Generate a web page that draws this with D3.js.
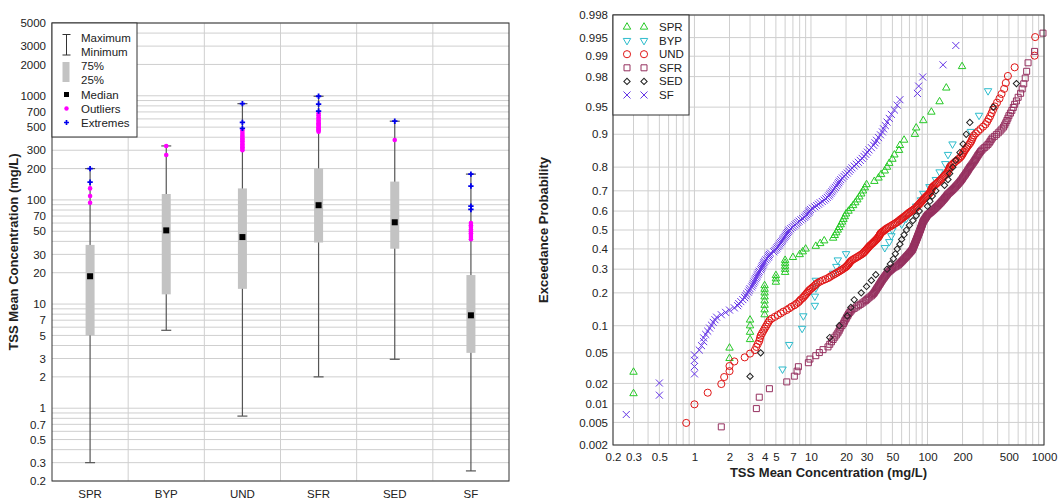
<!DOCTYPE html>
<html>
<head>
<meta charset="utf-8">
<script src="https://cdn.jsdelivr.net/npm/d3@7"></script>
<style>
body { margin: 0; background: #fff; }
text { font-family: "Liberation Sans", Arial, sans-serif; fill: #222; }
</style>
</head>
<body>
<div id="chart"></div>
<script>
// ---- box plot summaries (mg/L) ----
var boxCats = ["SPR", "BYP", "UND", "SFR", "SED", "SF"];
var boxMin = [0.3, 5.6, 0.84, 2.0, 2.95, 0.25];
var boxQ1 = [5, 12.4, 14, 39, 34, 3.4];
var boxMed = [18.5, 51, 44, 89, 61, 7.8];
var boxQ3 = [37, 114, 129, 201, 150, 19];
var boxMax = [200, 330, 840, 990, 570, 177];
var boxOutliers = [
    [129, 109, 94],
    [330, 270],
    [465, 440, 420, 405, 390, 378, 365, 352, 340, 330, 320, 310, 300],
    [680, 650, 620, 600, 580, 560, 545, 530, 515, 500, 490, 478, 465, 452],
    [376],
    [60, 57, 55, 52, 50, 48, 46, 44, 42]
];
var boxExtremes = [
    [200, 148],
    [],
    [840, 556, 486],
    [990, 833, 714],
    [570],
    [177, 136, 87, 81]
];
var boxTicks = [0.2, 0.3, 0.5, 0.7, 1, 2, 3, 5, 7, 10, 20, 30, 50, 70, 100, 200, 300, 500, 700, 1000, 2000, 3000, 5000];

// ---- probability plot: sorted concentrations per site (mg/L) ----
var sprConc = [0.3, 0.3, 2, 2, 3, 3, 3, 3, 4, 4,
    4, 4, 4, 4, 4, 4, 5, 5, 5, 6,
    6, 6, 6, 6, 7, 8, 8.5, 9, 11, 12,
    13, 15.5, 16, 16.5, 17, 17.5, 18, 18.5, 19, 19.5,
    20, 21, 22, 23, 24, 25, 26, 27, 28, 29,
    30, 35, 38, 40, 43, 45, 47, 50, 52, 57,
    58, 63, 78, 80, 92, 108, 127, 145, 198];
var bypConc = [5.7, 6.5, 8.4, 8.6, 10.8, 10.8, 11, 11, 15.5, 16.5,
    17, 20, 43, 47, 49, 50, 60, 66, 72, 80,
    88, 92, 104, 118, 127, 142, 150, 164, 236, 277, 331];
var undConc = [0.85, 1, 1.3, 1.7, 1.8, 2, 2, 2.2, 2.7, 3,
    3.3, 3.4, 3.5, 3.6, 3.65, 3.7, 3.8, 3.9, 4, 4.1,
    4.2, 4.3, 4.4, 4.6, 4.9, 5.2, 5.5, 5.8, 6.2, 6.5,
    6.8, 7.2, 7.5, 7.8, 8, 8.2, 8.5, 8.7, 8.9, 9.1,
    9.3, 9.5, 9.7, 10, 10.3, 10.6, 10.9, 11.1, 11.5, 12,
    12.6, 13.3, 14, 14.5, 15, 15.6, 16.2, 16.8, 17.4, 18,
    18.6, 19.2, 19.8, 20.2, 20.6, 21, 21.3, 21.6, 22, 22.5,
    23.2, 24, 24.8, 25.6, 26.4, 27.2, 28, 28.5, 29, 29.5,
    30, 30.5, 31, 31.5, 32, 32.7, 33.4, 34, 34.7, 35.3,
    36, 36.6, 37.2, 37.8, 38.3, 38.7, 39, 39.5, 40, 41,
    42, 43, 44, 45, 46.5, 48, 49.5, 51, 52.5, 54,
    55.5, 57, 58, 59.5, 61, 62.5, 64, 65.5, 67, 68.5,
    70, 72, 74, 76, 78, 80, 81, 82.5, 84, 85.5,
    87, 88.5, 90, 91.5, 93, 95, 97, 99, 101, 103,
    105, 106, 107, 108, 109, 110, 112, 115, 118, 121,
    124, 127, 130, 133, 136, 139, 142, 145, 148, 150,
    152, 154, 155, 158, 162, 167, 172, 178, 184, 190,
    195, 199, 202, 206, 210, 215, 220, 226, 232, 237,
    241, 245, 250, 260, 272, 285, 300, 315, 325, 335,
    345, 355, 365, 378, 395, 415, 432, 455, 470, 490,
    560, 830, 840];
var sfrConc = [1.7, 3.4, 3.6, 4.4, 6.2, 7.2, 7.6, 7.8, 9.5, 9.8,
    11, 11.8, 12.7, 14, 14.5, 15, 15.5, 16, 16.5, 17,
    17.4, 17.7, 18, 18.5, 19, 19.3, 19.6, 20, 20.3, 20.7,
    21, 21.5, 22, 22.5, 23.5, 24.5, 25.5, 26.5, 27.5, 28.5,
    29.5, 30.2, 31, 32, 33, 33.8, 34.5, 35, 35.5, 36,
    36.5, 37, 37.5, 38, 38.5, 39, 39.5, 40, 40.5, 41,
    41.6, 42.2, 42.8, 43.4, 44, 44.6, 45.2, 46, 47, 48,
    49, 50, 51.5, 53, 54.5, 56, 57, 58, 59, 60,
    61, 62, 63, 64, 65, 66, 67, 68, 69, 70,
    71, 72, 73, 74, 74.5, 75, 75.5, 76, 76.5, 77,
    77.5, 78, 78.5, 79, 79.5, 80, 80.5, 81, 81.5, 82,
    82.5, 83, 83.5, 84, 84.5, 85, 85.5, 86, 86.5, 87,
    87.5, 88, 88.5, 89, 89.5, 90, 90.5, 91, 91.5, 92,
    93, 94, 95, 96, 97, 98, 99, 100, 102, 104,
    106, 108, 110, 112, 114, 116, 118, 120, 122, 124,
    126, 128, 130, 132, 134, 136, 138, 140, 142, 144,
    146, 148, 150, 153, 156, 159, 162, 165, 168, 171,
    174, 177, 180, 183, 186, 189, 192, 195, 198, 200,
    203, 206, 209, 212, 215, 218, 221, 224, 227, 230,
    234, 238, 242, 246, 250, 254, 258, 262, 266, 270,
    275, 280, 285, 292, 300, 310, 320, 330, 338, 345,
    352, 360, 375, 390, 405, 420, 435, 450, 460, 470,
    480, 490, 500, 515, 530, 545, 560, 580, 600, 630,
    650, 670, 690, 710, 730, 830, 980];
var sedConc = [3, 3.7, 14.5, 17.5, 20.5, 22, 23.5, 27, 30, 33,
    36, 45, 48, 51, 53, 55, 58, 60, 63, 66,
    70, 75, 80, 85, 100, 105, 110, 118, 140, 150,
    155, 165, 175, 190, 202, 215, 231, 367, 580];
var sfConc = [0.26, 0.5, 0.5, 1, 1, 1, 1, 1.1, 1.15, 1.2,
    1.2, 1.25, 1.3, 1.35, 1.4, 1.45, 1.5, 1.55, 1.7, 1.85,
    2, 2.2, 2.35, 2.4, 2.5, 2.6, 2.7, 2.75, 2.8, 2.9,
    2.95, 3, 3.1, 3.15, 3.2, 3.25, 3.3, 3.35, 3.4, 3.45,
    3.5, 3.55, 3.6, 3.7, 3.75, 3.8, 3.85, 3.9, 3.95, 4,
    4.1, 4.2, 4.3, 4.35, 4.4, 4.5, 4.8, 4.9, 5, 5.1,
    5.2, 5.3, 5.4, 5.5, 5.6, 5.7, 5.8, 5.9, 6, 6.1,
    6.2, 6.3, 6.4, 6.5, 6.7, 6.9, 7.1, 7.3, 7.5, 7.7,
    7.9, 8.2, 8.5, 8.8, 9, 9.2, 9.4, 9.6, 9.7, 9.9,
    10.3, 10.8, 11.2, 11.6, 12, 12.5, 13, 13.4, 13.8, 14.2,
    14.5, 14.8, 15.1, 15.4, 15.8, 16.2, 16.6, 17, 17.3, 17.6,
    18, 18.6, 19.2, 19.8, 20.5, 21.2, 21.8, 22.5, 23.5, 24.5,
    25.5, 26.5, 27.5, 28.5, 29.5, 30.5, 31.5, 33, 34.5, 35.5,
    36.5, 38, 39.5, 41, 42, 43.5, 45, 47, 49, 52,
    55, 58, 82, 84, 91, 136, 175];

var probNames = ["SPR", "BYP", "UND", "SFR", "SED", "SF"];
var probTicks = [0.002, 0.005, 0.01, 0.02, 0.05, 0.1, 0.2, 0.3, 0.4, 0.5, 0.6, 0.7, 0.8, 0.9, 0.95, 0.98, 0.99, 0.995, 0.998];
var concTicks = [0.2, 0.3, 0.5, 1, 2, 3, 4, 5, 7, 10, 20, 30, 50, 100, 200, 500, 1000];

var gridColor = "#cfcfcf",
    fontSize = "11.5px";

// inverse standard normal (Acklam) for the probability axis
function probit(p) {
    var a = [-39.69683028665376, 220.9460984245205, -275.9285104469687, 138.3577518672690, -30.66479806614716, 2.506628277459239],
        b = [-54.47609879822406, 161.5858368580409, -155.6989798598866, 66.80131188771972, -13.28068155288572],
        c = [-0.007784894002430293, -0.3223964580411365, -2.400758277161838, -2.549732539343734, 4.374664141464968, 2.938163982698783],
        d = [0.007784695709041462, 0.3224671290700398, 2.445134137142996, 3.754408661907416],
        q, r;
    if (p < 0.02425) {
        q = Math.sqrt(-2 * Math.log(p));
        return (((((c[0]*q+c[1])*q+c[2])*q+c[3])*q+c[4])*q+c[5]) / ((((d[0]*q+d[1])*q+d[2])*q+d[3])*q+1);
    }
    if (p > 1 - 0.02425) {
        q = Math.sqrt(-2 * Math.log(1 - p));
        return -(((((c[0]*q+c[1])*q+c[2])*q+c[3])*q+c[4])*q+c[5]) / ((((d[0]*q+d[1])*q+d[2])*q+d[3])*q+1);
    }
    q = p - 0.5; r = q * q;
    return (((((a[0]*r+a[1])*r+a[2])*r+a[3])*r+a[4])*r+a[5])*q / (((((b[0]*r+b[1])*r+b[2])*r+b[3])*r+b[4])*r+1);
}

// every 1..9 multiple between lo and hi, for log gridlines
function logGrid(lo, hi) {
    var out = [];
    for (var e = -1; e <= 3; e++) {
        for (var m = 1; m <= 9; m++) {
            var v = +(m * Math.pow(10, e)).toPrecision(3);
            if (v >= lo - 1e-9 && v <= hi + 1e-9) out.push(v);
        }
    }
    return out;
}

var svg = d3.select("#chart")
    .append("svg")
    .attr("width", 1060)
    .attr("height", 502);

// ================= left: box plot =================
var boxLeft = 52, boxRight = 509, boxTop = 23, boxBottom = 481;

var bx = d3.scaleBand().domain(boxCats).range([boxLeft, boxRight]);
var by = d3.scaleLog().domain([0.2, 5000]).range([boxBottom, boxTop]);

var left = svg.append("g");

left.selectAll(".hgrid")
    .data(logGrid(0.2, 5000))
    .enter().append("line")
    .attr("x1", boxLeft).attr("x2", boxRight)
    .attr("y1", d => by(d)).attr("y2", d => by(d))
    .attr("stroke", gridColor);

left.selectAll(".vgrid")
    .data(boxCats.slice(1))
    .enter().append("line")
    .attr("x1", d => bx(d)).attr("x2", d => bx(d))
    .attr("y1", boxTop).attr("y2", boxBottom)
    .attr("stroke", gridColor);

left.append("g")
    .attr("transform", "translate(" + boxLeft + ",0)")
    .call(d3.axisLeft(by).tickValues(boxTicks).tickFormat(d3.format("~g")).tickSize(0).tickPadding(6))
    .call(g => g.select(".domain").remove())
    .selectAll("text").style("font-size", fontSize).attr("fill", "#222");

left.append("g")
    .attr("transform", "translate(0," + boxBottom + ")")
    .call(d3.axisBottom(bx).tickSize(0).tickPadding(9))
    .call(g => g.select(".domain").remove())
    .selectAll("text").style("font-size", fontSize).attr("fill", "#222");

left.append("text")
    .attr("transform", "translate(18," + ((boxTop + boxBottom) / 2) + ") rotate(-90)")
    .attr("text-anchor", "middle")
    .style("font-size", "13px")
    .style("font-weight", "bold")
    .text("TSS Mean Concentration (mg/L)");

var boxes = boxCats.map(function(c, i) {
    return { cat: c, min: boxMin[i], q1: boxQ1[i], med: boxMed[i], q3: boxQ3[i], max: boxMax[i],
             outliers: boxOutliers[i], extremes: boxExtremes[i] };
});

var bw = 9, capW = 10;
var cx = d => bx(d.cat) + bx.bandwidth() / 2;

var bg = left.selectAll(".box").data(boxes).enter().append("g");

bg.append("line")
    .attr("x1", cx).attr("x2", cx)
    .attr("y1", d => by(d.min)).attr("y2", d => by(d.max))
    .attr("stroke", "#555").attr("stroke-width", 1.2);
bg.append("line")
    .attr("x1", d => cx(d) - capW / 2).attr("x2", d => cx(d) + capW / 2)
    .attr("y1", d => by(d.min)).attr("y2", d => by(d.min))
    .attr("stroke", "#555").attr("stroke-width", 1.2);
bg.append("line")
    .attr("x1", d => cx(d) - capW / 2).attr("x2", d => cx(d) + capW / 2)
    .attr("y1", d => by(d.max)).attr("y2", d => by(d.max))
    .attr("stroke", "#555").attr("stroke-width", 1.2);
bg.append("rect")
    .attr("x", d => cx(d) - bw / 2)
    .attr("width", bw)
    .attr("y", d => by(d.q3))
    .attr("height", d => by(d.q1) - by(d.q3))
    .attr("fill", "#c3c3c3");
bg.append("rect")
    .attr("x", d => cx(d) - 3)
    .attr("y", d => by(d.med) - 3)
    .attr("width", 6).attr("height", 6)
    .attr("fill", "#000");
bg.selectAll(".out")
    .data(d => d.outliers.map(v => ({ cat: d.cat, v: v })))
    .enter().append("circle")
    .attr("cx", cx).attr("cy", d => by(d.v))
    .attr("r", 2.3).attr("fill", "#ff00ff");
bg.selectAll(".ext")
    .data(d => d.extremes.map(v => ({ cat: d.cat, v: v })))
    .enter().append("path")
    .attr("transform", d => "translate(" + cx(d) + "," + by(d.v) + ")")
    .attr("d", d3.symbol().type(d3.symbolCross).size(16))
    .attr("fill", "#0000ee");

left.append("rect")
    .attr("x", boxLeft).attr("y", boxTop)
    .attr("width", boxRight - boxLeft).attr("height", boxBottom - boxTop)
    .attr("fill", "none").attr("stroke", "#333");

// legend
var lg = left.append("g");
lg.append("rect")
    .attr("x", boxLeft).attr("y", boxTop)
    .attr("width", 85).attr("height", 114)
    .attr("fill", "#fff").attr("stroke", "#333");
lg.append("path")
    .attr("d", "M62.5,34.5H70.5M66.5,34.5V55M62.5,55H70.5")
    .attr("stroke", "#333").attr("fill", "none");
lg.append("rect").attr("x", 62.5).attr("y", 62).attr("width", 7).attr("height", 20).attr("fill", "#c3c3c3");
lg.append("rect").attr("x", 64).attr("y", 92).attr("width", 5).attr("height", 5).attr("fill", "#000");
lg.append("circle").attr("cx", 66.5).attr("cy", 108.5).attr("r", 2.2).attr("fill", "#ff00ff");
lg.append("path")
    .attr("transform", "translate(66.5,122.5)")
    .attr("d", d3.symbol().type(d3.symbolCross).size(14))
    .attr("fill", "#0000ee");
var legendText = [["Maximum", 38], ["Minimum", 52], ["75%", 66], ["25%", 80], ["Median", 94.5], ["Outliers", 108.5], ["Extremes", 122.5]];
lg.selectAll(".lt")
    .data(legendText)
    .enter().append("text")
    .attr("x", 81).attr("y", d => d[1])
    .attr("dy", "0.35em")
    .style("font-size", fontSize)
    .text(d => d[0]);

// ================= right: probability plot =================
var pLeft = 613, pRight = 1044, pTop = 15, pBottom = 445;

var px = d3.scaleLog().domain([0.2, 1000]).range([pLeft, pRight]);
var py = d3.scaleLinear().domain([probit(0.002), probit(0.998)]).range([pBottom, pTop]);

var right = svg.append("g");

right.selectAll(".vgrid")
    .data(logGrid(0.2, 1000))
    .enter().append("line")
    .attr("x1", d => px(d)).attr("x2", d => px(d))
    .attr("y1", pTop).attr("y2", pBottom)
    .attr("stroke", gridColor);

right.selectAll(".hgrid")
    .data(probTicks)
    .enter().append("line")
    .attr("x1", pLeft).attr("x2", pRight)
    .attr("y1", d => py(probit(d))).attr("y2", d => py(probit(d)))
    .attr("stroke", gridColor);

right.append("g")
    .attr("transform", "translate(" + pLeft + ",0)")
    .call(d3.axisLeft(py).tickValues(probTicks.map(probit)).tickFormat((d, i) => probTicks[i]).tickSize(0).tickPadding(5))
    .call(g => g.select(".domain").remove())
    .selectAll("text").style("font-size", fontSize).attr("fill", "#222");

right.append("g")
    .attr("transform", "translate(0," + pBottom + ")")
    .call(d3.axisBottom(px).tickValues(concTicks).tickFormat(d3.format("~g")).tickSize(0).tickPadding(8))
    .call(g => g.select(".domain").remove())
    .selectAll("text").style("font-size", fontSize).attr("fill", "#222");

right.append("text")
    .attr("x", (pLeft + pRight) / 2)
    .attr("y", 477)
    .attr("text-anchor", "middle")
    .style("font-size", "13px")
    .style("font-weight", "bold")
    .text("TSS Mean Concentration (mg/L)");

right.append("text")
    .attr("transform", "translate(548," + ((pTop + pBottom) / 2) + ") rotate(-90)")
    .attr("text-anchor", "middle")
    .style("font-size", "13px")
    .style("font-weight", "bold")
    .text("Exceedance Probability");

var symX = d3.symbolX || d3.symbolCross;
var styles = {
    SPR: { color: "#27c927", sym: d3.symbolTriangle, size: 24, rot: 0 },
    BYP: { color: "#2cbccc", sym: d3.symbolTriangle, size: 24, rot: 180 },
    UND: { color: "#e01515", sym: d3.symbolCircle, size: 40, rot: 0 },
    SFR: { color: "#95305f", sym: d3.symbolSquare, size: 36, rot: 0 },
    SED: { color: "#222222", sym: d3.symbolSquare, size: 20, rot: 45 },
    SF:  { color: "#6535e6", sym: symX, size: 34, rot: 0 }
};

var probData = [sprConc, bypConc, undConc, sfrConc, sedConc, sfConc].map(function(conc, k) {
    return {
        name: probNames[k],
        points: conc.map((c, i) => ({ c: c, p: (i + 1) / (conc.length + 1) }))
    };
});

var pg = right.selectAll(".series")
    .data(probData)
    .enter().append("g");

pg.selectAll("path")
    .data(d => d.points.map(pt => Object.assign({ name: d.name }, pt)))
    .enter().append("path")
    .attr("transform", d => "translate(" + px(d.c) + "," + py(probit(d.p)) + ") rotate(" + styles[d.name].rot + ")")
    .attr("d", d => d3.symbol().type(styles[d.name].sym).size(styles[d.name].size)())
    .attr("fill", "none")
    .attr("stroke", d => styles[d.name].color)
    .attr("stroke-width", 1);

right.append("rect")
    .attr("x", pLeft).attr("y", pTop)
    .attr("width", pRight - pLeft).attr("height", pBottom - pTop)
    .attr("fill", "none").attr("stroke", "#333");

// legend
var pl = right.append("g");
pl.append("rect")
    .attr("x", pLeft).attr("y", pTop)
    .attr("width", 76).attr("height", 100)
    .attr("fill", "#fff").attr("stroke", "#333");
var rows = pl.selectAll(".row")
    .data(probNames)
    .enter().append("g")
    .attr("transform", (d, i) => "translate(0," + (27 + i * 13.6) + ")");
[627, 644].forEach(function(x) {
    rows.append("path")
        .attr("transform", d => "translate(" + x + ",0) rotate(" + styles[d].rot + ")")
        .attr("d", d => d3.symbol().type(styles[d].sym).size(styles[d].size)())
        .attr("fill", "none")
        .attr("stroke", d => styles[d].color);
});
rows.append("text")
    .attr("x", 659).attr("dy", "0.35em")
    .style("font-size", fontSize)
    .text(d => d);
</script>
</body>
</html>
